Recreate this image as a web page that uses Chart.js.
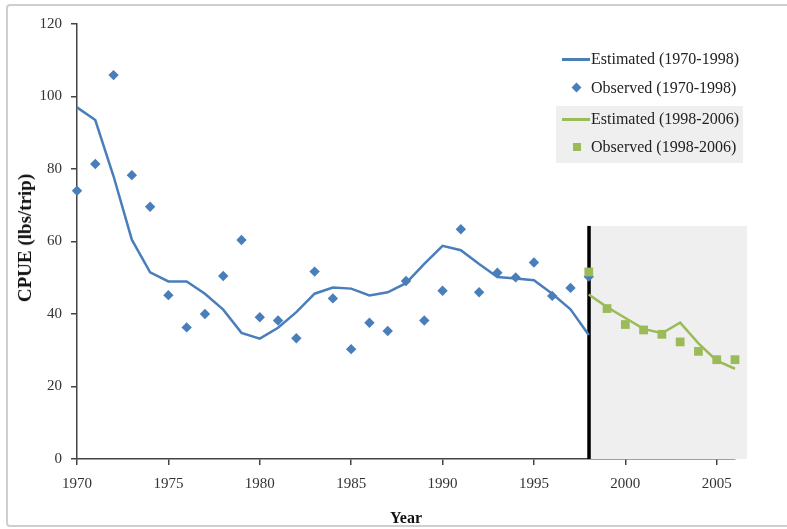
<!DOCTYPE html>
<html>
<head>
<meta charset="utf-8">
<script src="https://cdn.jsdelivr.net/npm/chart.js@4.4.1/dist/chart.umd.min.js"></script>
<style>
  html, body { margin: 0; padding: 0; background: #fff; }
  #wrap { position: relative; width: 787px; height: 529px; overflow: hidden; }
  #frame { position: absolute; left: 6px; top: 4px; width: 800px; height: 523px; border: 2px solid #cfcfcf; border-radius: 4px; box-sizing: border-box; }
  canvas { position: absolute; left: 0; top: 0; }
  .lg { position: absolute; font-family: "Liberation Serif", "Times New Roman", serif; font-size: 16px; color: #222; white-space: nowrap; line-height: 16px; }
  .ytitle { position: absolute; font-family: "Liberation Serif", "Times New Roman", serif; font-weight: bold; font-size: 19px; color: #111; white-space: nowrap; transform: translate(-50%, -50%) rotate(-90deg); left: 25px; top: 238px; }
  .xtitle { position: absolute; font-family: "Liberation Serif", "Times New Roman", serif; font-weight: bold; font-size: 16px; color: #111; white-space: nowrap; left: 406px; top: 518px; transform: translate(-50%, -50%); }
</style>
</head>
<body>
<div id="wrap">
  <div id="frame"></div>
  <canvas id="c" width="787" height="529"></canvas>
  <div class="ytitle">CPUE (lbs/trip)</div>
  <div class="xtitle">Year</div>
  <div id="legend"></div>
</div>
<script>
// ---- Data ----
const years1 = [1970,1971,1972,1973,1974,1975,1976,1977,1978,1979,1980,1981,1982,1983,1984,1985,1986,1987,1988,1989,1990,1991,1992,1993,1994,1995,1996,1997,1998];
const estimated1 = [97,93.5,78,60.5,51.5,49,49,45.6,41.2,34.8,33.2,36.2,40.5,45.6,47.3,47,45.1,46,48.5,53.8,58.8,57.6,53.8,50.2,49.8,49.3,45.6,41.3,34.2];
const observed1 = [74,81.4,105.9,78.3,69.6,45.2,36.3,40,50.5,60.4,39.1,38.2,33.3,51.7,44.3,30.3,37.6,35.3,49.1,38.2,46.4,63.4,46,51.4,50.1,54.2,45,47.2,50.3];
const years2 = [1998,1999,2000,2001,2002,2003,2004,2005,2006];
const estimated2 = [45.4,41.9,38.9,35.9,34.7,37.6,31.9,27.1,24.9];
const observed2 = [51.6,41.5,37.1,35.6,34.4,32.3,29.7,27.4,27.4];
const labels = ["Estimated (1970-1998)","Observed (1970-1998)","Estimated (1998-2006)","Observed (1998-2006)"];
const xTitle = "Year";
const yTitle = "CPUE (lbs/trip)";
const shadeStart = 1998, shadeEnd = 2006.65, shadeTop = 64.3;

const blue = "#4a7ebb";
const green = "#9bbb59";
const pts = (xs, ys) => xs.map((x, i) => ({x: x, y: ys[i]}));

const shadePlugin = {
  id: "shade",
  beforeDatasetsDraw(chart) {
    const {ctx, scales: {x, y}} = chart;
    const x0 = x.getPixelForValue(shadeStart), x1 = x.getPixelForValue(shadeEnd);
    const y0 = y.getPixelForValue(shadeTop), y1 = y.getPixelForValue(0);
    ctx.save();
    ctx.fillStyle = "#efefef";
    ctx.fillRect(x0, y0, x1 - x0, y1 - y0);
    ctx.fillStyle = "#000";
    ctx.fillRect(x0 - 1.5, y0, 3.5, y1 - y0);
    ctx.restore();
  }
};

const tickFont = {family: "'Liberation Serif', 'Times New Roman', serif", size: 15};

new Chart(document.getElementById("c"), {
  type: "scatter",
  data: {
    datasets: [
      {label: labels[0], data: pts(years1, estimated1), showLine: true, borderColor: blue, borderWidth: 2.5, pointRadius: 0, fill: false, clip: false, order: 4},
      {label: labels[1], data: pts(years1, observed1), showLine: false, backgroundColor: blue, borderColor: blue, borderWidth: 0, pointStyle: "rectRot", pointRadius: 5.2, clip: false, order: 3},
      {label: labels[2], data: pts(years2, estimated2), showLine: true, borderColor: green, borderWidth: 2.5, pointRadius: 0, fill: false, clip: false, order: 2},
      {label: labels[3], data: pts(years2, observed2), showLine: false, backgroundColor: green, borderColor: green, borderWidth: 0, pointStyle: "rect", pointRadius: 6.2, clip: false, order: 1}
    ]
  },
  options: {
    responsive: false,
    animation: false,
    layout: {padding: {left: 0, right: 52, top: 24, bottom: 0}},
    plugins: {legend: {display: false}, tooltip: {enabled: false}},
    scales: {
      x: {
        type: "linear", min: 1970, max: 2006,
        afterFit(s) { s.height = 70; },
        border: {display: true, color: "#444", width: 1.5},
        grid: {display: true, drawOnChartArea: false, drawTicks: true, tickLength: 6, color: "#444", lineWidth: 1.5},
        ticks: {stepSize: 5, includeBounds: false, padding: 10, color: "#333", font: tickFont, maxRotation: 0, callback: v => String(v)}
      },
      y: {
        type: "linear", min: 0, max: 120,
        afterFit(s) { s.width = 77; },
        border: {display: true, color: "#444", width: 1.5},
        grid: {display: true, drawOnChartArea: false, drawTicks: true, tickLength: 6, color: "#444", lineWidth: 1.5},
        ticks: {stepSize: 20, padding: 9, color: "#333", font: tickFont}
      }
    }
  },
  plugins: [shadePlugin]
});

// ---- HTML legend ----
const lg = document.getElementById("legend");
const items = [
  {kind: "line", color: blue, y: 59},
  {kind: "diamond", color: blue, y: 88},
  {kind: "line", color: green, y: 119},
  {kind: "square", color: green, y: 147}
];
const box = document.createElement("div");
box.style.cssText = "position:absolute;left:556px;top:106px;width:187px;height:57px;background:#efefef;";
lg.appendChild(box);
items.forEach((it, i) => {
  const m = document.createElement("div");
  if (it.kind === "line") {
    m.style.cssText = `position:absolute;left:562px;top:${it.y - 1}px;width:28px;height:3px;background:${it.color};`;
  } else if (it.kind === "diamond") {
    m.style.cssText = `position:absolute;left:573px;top:${it.y - 4}px;width:7px;height:7px;background:${it.color};transform:rotate(45deg);`;
  } else {
    m.style.cssText = `position:absolute;left:573px;top:${it.y - 4}px;width:8px;height:8px;background:${it.color};`;
  }
  lg.appendChild(m);
  const t = document.createElement("div");
  t.className = "lg";
  t.textContent = labels[i];
  t.style.left = "591px";
  t.style.top = (it.y - 8) + "px";
  lg.appendChild(t);
});
</script>
</body>
</html>
